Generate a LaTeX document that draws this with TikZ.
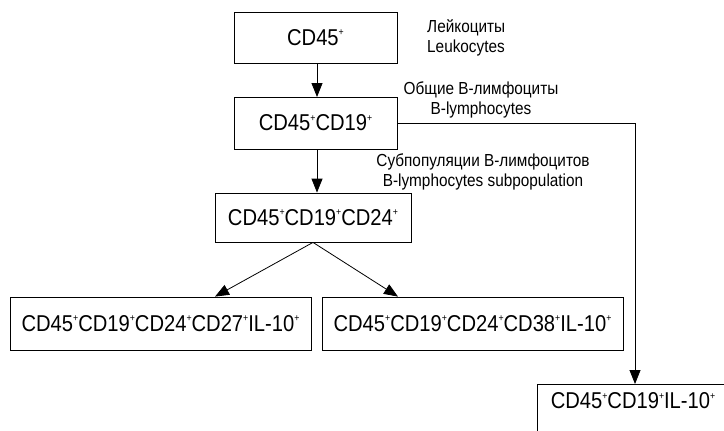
\documentclass[tikz,border=0pt]{standalone}
\usepackage{fontspec}
\setmainfont{Liberation Sans}
\usetikzlibrary{arrows.meta}
\newcommand\pl{\raisebox{0.42em}{\fontsize{10}{10}\selectfont+}}
\tikzset{
  box/.style={draw, line width=0.8bp, inner sep=0pt, font=\fontsize{23}{25}\selectfont\addfontfeature{FakeStretch=0.88}},
  lbl/.style={font=\fontsize{17.5}{19.5}\selectfont\addfontfeature{FakeStretch=0.88}, align=center, inner sep=0pt},
  arr/.style={line width=0.8bp, -{Triangle[length=14bp,width=11bp]}},
  ln/.style={line width=0.8bp}
}
\begin{document}
\begin{tikzpicture}[x=1bp,y=-1bp]
\useasboundingbox (0,0) rectangle (724,430);
\clip (0,0) rectangle (724,430);
\node[box, minimum width=163bp, minimum height=51bp] (b1) at (315.5,37.5) {CD45\pl};
\node[box, minimum width=163bp, minimum height=52bp] (b2) at (315.5,123) {CD45\pl CD19\pl};
\node[box, minimum width=196bp, minimum height=49bp] (b3) at (313,217.5) {CD45\pl CD19\pl CD24\pl};
\node[box, minimum width=301bp, minimum height=53bp] (b4) at (160.5,323.5) {CD45\pl CD19\pl CD24\pl CD27\pl IL-10\pl};
\node[box, minimum width=301bp, minimum height=53bp] (b5) at (472.5,323.5) {CD45\pl CD19\pl CD24\pl CD38\pl IL-10\pl};
\draw[ln] (537,460) -- (537,384) -- (760,384);
\node[box, draw=none] (b6) at (633,401) {CD45\pl CD19\pl IL-10\pl};
\coordinate (t6) at (635,384);
\coordinate (c6) at (635,123);
\node[lbl, align=left, anchor=west] (l1) at (427,38) {Лейкоциты\\Leukocytes};
\node[lbl] (l2) at (481,100) {Общие В-лимфоциты\\B-lymphocytes};
\node[lbl] (l3) at (483,172) {Субпопуляции В-лимфоцитов\\B-lymphocytes subpopulation};
\draw[arr] (317,63) -- (317,97);
\draw[arr] (b2.south -| 317,0) -- (b3.north -| 317,0);
\draw[arr] (b3.south) -- (b4.north -| 215,0);
\draw[arr] (b3.south) -- (b5.north -| 398,0);
\draw[arr] (b2.east) -- (c6) -- (t6);
\end{tikzpicture}
\end{document}
